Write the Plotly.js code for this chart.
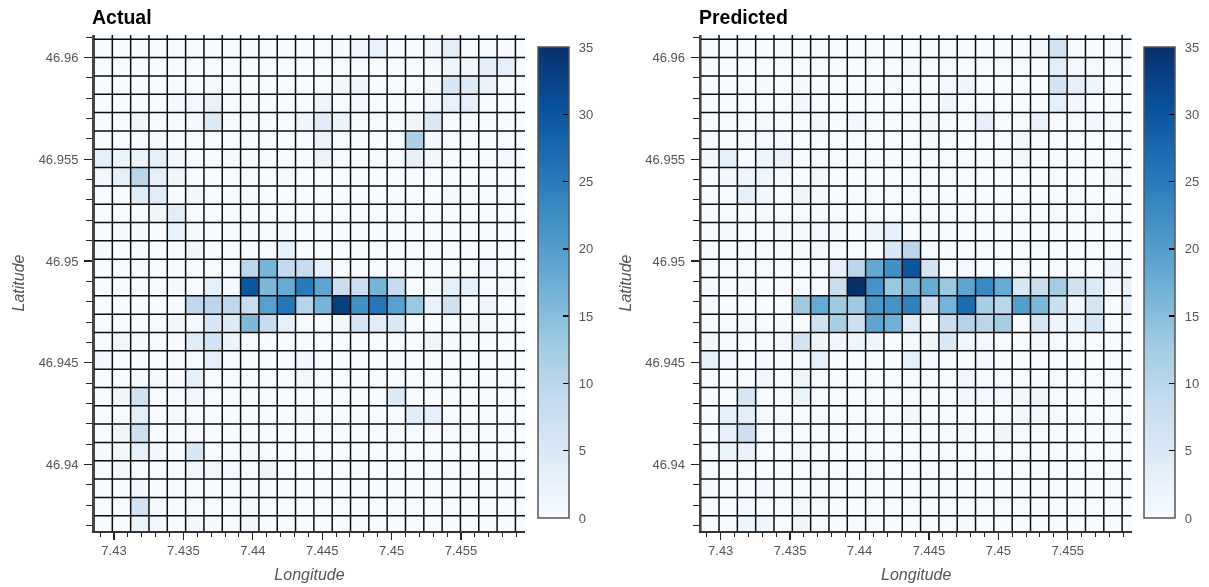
<!DOCTYPE html>
<html>
<head>
<meta charset="utf-8">
<script src="https://cdn.plot.ly/plotly-3.0.1.min.js"></script>
<style>
html,body{margin:0;padding:0;background:#fff;overflow:hidden}
#chart{width:1209px;height:587px;filter:blur(0.45px)}
.colorbar text{translate:6px 0}
</style>
</head>
<body>
<div id="chart"></div>
<script>
const lonEdges = [7.42856,7.42988,7.43120,7.43252,7.43384,7.43516,7.43648,7.43780,7.43912,7.44044,7.44176,7.44308,7.44440,7.44572,7.44704,7.44836,7.44968,7.45100,7.45232,7.45364,7.45496,7.45628,7.45760,7.45892,7.46024];
const latEdgesTopDown = [46.96179,46.96089,46.95999,46.95909,46.95819,46.95729,46.95639,46.95549,46.95459,46.95369,46.95279,46.95189,46.95099,46.95009,46.94919,46.94829,46.94739,46.94649,46.94559,46.94469,46.94379,46.94289,46.94199,46.94109,46.94019,46.93929,46.93839,46.93749,46.93659];

// Rows run from the top of the picture to the bottom, 24 columns each.
const actualRows = [
[0,0,0,0,0,0,0,0,0,0,0,0,0,0.3,0.5,0.7,0.2,0.2,1,1,0.7,0.5,0.3,0],
[0,0,0,0,0,0,0,0,0,0,0,0,0,0.5,1,2.5,0,0,1,3.5,0,0,0,0],
[0,0,0,0,0,0,0,0,0,0,0,0,0,0.2,0,0,0,0,0.5,1.5,1,3.5,3,0],
[0,0,0,0,0,0,0.7,0,0,0,0,0,0,1,1.5,0,0,0,1,5.5,4.5,2.5,0,0],
[0,0,0,0,0.5,0.7,2.5,0,0,0,0,0,1.5,0,0.8,0.4,0,0,1,2.5,3,0.3,0,0],
[0,0,1.5,0,0,0.7,4.5,0,0,0,0,1.5,4,2,0,0.3,0,1.5,5,0,0,0,0,0],
[0,0,0,0.5,0,0,0,0,0,0,0,0,2,0.3,0,0,0.3,11.5,1,0.3,0,0,0.3,0],
[3,2,2,3,1,0,0,0.5,0,0,0,0,2,0,0,0.4,0,3,1,0,0,0,0.8,0],
[1,3,10,3,1.5,0,0,0,0,0,0.5,0,0,0,0,0,0,0,0,0,0,0,0,0],
[0,0,4,4,0,1,0,0,0.5,0,0,0,0,0,0,0,0,0,0,0.8,0.3,0.3,0.2,0],
[0,0,0,1.5,3.5,0,0,0,0,0,0,0,0,0,0,0,0,0,0,0,0,0,0,0],
[0,0.5,0.5,0,2.5,0.5,0,0,0,0.3,0.5,0,0,0,0,0,0,0,0,0,0,0,0,0],
[0.5,0,0,0,0,1.5,0,0,0,0.3,3,0,0,0,0,0.3,0,0,0,0,0,0,0,0],
[0,0,0,0,0,0,0,0.3,10,16.5,9,8.8,3,0,0,0,0,0,0,0,0,0.7,0,0],
[0,0,0,0,0.5,0,3,0.8,30,16,18,25,19,8,7.5,16.5,8.5,0,0.5,3,3,0,0.5,0.5],
[0,0,0,0,0,9.5,10,9.5,8.3,19.5,25.5,10.5,16.5,33,22,25.5,19.5,13.5,2.5,7,0.3,1.5,0,1],
[0,0,0,0,1,0.5,5.5,4.5,16,8.5,3,0.3,0,1,6,4,5,0,0,0,1,0.5,0,0],
[0.3,1,0.5,0.4,0,4,6.5,2,0.3,0,0,0,0,0,0,0,0,0,1.5,0.5,0,0,0,0],
[1,0,0,0.4,0,0.4,3,0,0,0,0,1,0,0,0,0,0,0,0,0,0,0,0,0],
[0,0,0.5,0.5,0,3,0,0,0,0,0,1,0,0,0,0,0,0,0,0,0,0,0,0],
[0,1.5,7,0,0,1,0,0,0,0,0,0,0,0,0,0,4.5,0,0,0,0,0,0,0],
[0,0.3,3.5,0,0.5,0,0,0,0,0,0,0.5,0,0,0,0,0,4,3,0,0,0,0,0],
[0,1.5,7.5,0,0,0,0,0,0,0,0,0,0,0,0,0,0.3,0.3,0,0,0.3,0,0,0],
[0.5,1,3,1,0,5.5,0,0,0.5,0,0,0,0,0,0,0,0,0,0,0,0,0,0,0],
[0,1,0,0.4,0,1,1,0.8,0,1.5,0,0,0,0,0,0,0,0.2,0,0,0,0,0,0],
[0,0,1,0,0,0,0,0,0,0,0,0,0,0,0.3,0,0,0,0,0,0,0,0,0],
[0,0,6.5,0.5,0,0.3,0,0,0.5,0,0,0,0,0,0,0,0,0,0,0,0,0,0,0],
[0,0,2,1,0,1,0.5,0.2,1,0,0,0,0,0,0.3,0,0,0,0,0,0,0,0,0]
];
const predictedRows = [
[0.1,0.1,0.1,0.1,0.1,0.1,0.1,0.1,0.3,0.1,0.1,0.1,0.1,0.1,0.1,0.1,0.1,0.1,0.3,1.5,0.3,0.1,0.1,0.1],
[0.2,0,0,0,0,0,0,0,0,0,0,0,0,0.4,0.4,0.1,0.4,0.1,1,6.5,0.4,0.1,0.1,0.4],
[0,0,0,0,0,0,0,0,0,0,0,0.5,0.4,0.4,0,0.3,0.3,0.3,0.1,3.5,0.8,0.4,0.4,0.2],
[0,0,0,0.5,0,0.6,0,0,0,0,0.6,0,0,0.9,1.5,0,0,0,0,6.5,3,1.5,0,0],
[0,0,0.3,0.2,0.3,1,0.4,0,0,0,0,0,0.3,1.5,0.2,0,0.3,0,0.1,3,1,0.1,0,0],
[0,0.2,0,0.8,0,0,1,0,1,0,0,0.2,1.2,0,0,3,0,0.4,2.5,0,0.2,1,0.2,0],
[0.2,0,0.5,0.7,0.7,0,0,0.3,0.4,0,0,0,0.6,0,0,0,0,1,0.3,0,0,0,0,0.1],
[1,3,0.3,1.5,2.5,0,0.3,0.4,0.4,0,0,0,0,0.4,0.4,0,0,1,0,0,0,0,0.4,0.1],
[0,1,1.5,1.5,0.5,0,1,0.3,0,0,0,0,0,0.4,0,0,0,0,0,0.3,0,0,1,0.1],
[0,0.2,3,1.2,0,1.5,0.9,0,0.2,0.2,0.2,0.2,0.2,0,0,0,0,0,0,0,0.3,0,0,0],
[0,0.3,0.6,0.8,0.3,0.3,0.6,0.3,0,0,0,0,0.4,0,0,0,0,0.1,0.1,0.3,0,0.3,0,0],
[0,0.6,0.2,0.2,0.5,0.5,0.7,0.5,0,1.5,3,0,0,0,0.3,0,0,0,0,0,0,0,0.3,0],
[0,0,0.6,0.2,0,0.5,0.7,0.3,0,0,5.5,10,0.3,0,0,0.2,0,0,0.2,0,0,0,0.3,0],
[0.2,0.2,0,0.2,0,0,0,3,10,18.5,22,30,6.5,0.2,0.7,0.1,0,0.2,0,0,0,0,1.5,0.2],
[0.7,0,0.5,0,0,0,0.2,8,35,21.5,13.5,16.5,18,13.5,19,23,18,5.5,8,12.5,7,4.5,0.8,2.5],
[0.7,0,0,0,0,13,18,13,13,21,21.5,24,8,16.5,27,12,10,20,16,8,1,6,0,2.5],
[0,0.3,0.7,0,0.5,0,7,12,7.5,19,17,4,0.1,8,11,10,12.5,0,6,1.5,2,5.5,0,0],
[1,0.3,0,0.3,0.7,6.5,1.5,1,1.5,1.5,0,0.7,1.5,5,1.2,0.7,0.2,0,0.7,0.2,0.2,0,0,0],
[3,0.8,0.3,0.8,0,0.6,3,0,0,0,0,3,0.8,0,0,0.7,0,0,0,0,0,0,0,0],
[0,0,0.4,1,0,1.5,0,0,0,0,0,0.4,0,0,1,0.4,0.3,0,0,0.3,0,0,0.3,0],
[0,0,5.5,0,0,2,0,0,0,0,0,0.4,0,0,1,0.7,0.7,1,1.5,0,0,0,0,0],
[0,3,3.5,0.8,0.2,0,0.4,0,0,0,0,1.2,0,0,0.1,0,0,1,1,0.3,0,0,0,0],
[0,3,7.5,0.2,0.3,0,0,0,0,0,0,0,0,0.2,0.8,0,1.5,0.2,0.2,0,0,0,0,0],
[0.3,2,2.5,0,0,0.7,0,0,0,0,0,0,0,0,0.3,0.3,0.1,0.4,0,0,0,0,0,0],
[0.2,0,0.6,0,0,0.2,0.3,0,0,0.2,0,0,0,0,0,0,0,0,0,0,0,0,0,0],
[0.5,0,0.2,0.7,0,0,0,0,0,0.1,0,0,0,0,0.3,0,0,0,0,0,0,0,0,0],
[0,0,0.8,0,0,0.9,0.3,0,0,0,0,0,0,0,0,0.2,0.3,0,0,0,0,0,0,0],
[0,0.2,1.5,1.5,0,1.5,0.3,0,0.2,0,0,0,0,0,0.5,0,0,0,0,0,0,0,0,0]
];
const lonTicks = [7.43,7.435,7.44,7.445,7.45,7.455];
const lonLabels = ["7.43","7.435","7.44","7.445","7.45","7.455"];
const latTicks = [46.94,46.945,46.95,46.955,46.96];
const latLabels = ["46.94","46.945","46.95","46.955","46.96"];
const colorTicks = [0,5,10,15,20,25,30,35];
const blues = ["#f7fbff","#deebf7","#c6dbef","#9ecae1","#6baed6","#4292c6","#2171b5","#08519c","#08306b"];
const panelTitles = ["Actual","Predicted"];

const W = 1209, H = 587;
const latEdges = latEdgesTopDown.slice().reverse();
const colorscale = blues.map((c,i)=>[i/(blues.length-1),c]);
const lonRange = [7.42856,7.45961], latRange = [46.93674,46.9611];

function gridTrace(xa,ya){
  const xs=[],ys=[];
  lonEdges.forEach(e=>{xs.push(e,e,null);ys.push(latRange[0],latRange[1],null);});
  latEdges.forEach(e=>{xs.push(lonRange[0],lonRange[1],null);ys.push(e,e,null);});
  return {type:'scatter',mode:'lines',x:xs,y:ys,xaxis:xa,yaxis:ya,hoverinfo:'skip',showlegend:false,
    line:{color:'#0c0c0c',width:1.5}};
}
function heat(rows,xa,ya,barLeft){
  return {type:'heatmap',x:lonEdges,y:latEdges,z:rows.slice().reverse(),xaxis:xa,yaxis:ya,zmin:0,zmax:35,
    colorscale:colorscale,hoverinfo:'skip',
    colorbar:{x:barLeft/W,xanchor:'left',xpad:0,y:1-518/H,yanchor:'bottom',ypad:0,
      thicknessmode:'pixels',thickness:31,lenmode:'pixels',len:471,
      outlinecolor:'#555',outlinewidth:1.5,ticks:'inside',ticklen:6,tickwidth:1.5,tickcolor:'#000',
      tickmode:'array',tickvals:colorTicks,ticktext:colorTicks.map(String),
      tickfont:{family:'Liberation Sans',size:13,color:'#555'}}};
}
function xAxis(l,r){
  return {domain:[l/W,r/W],range:lonRange,tickmode:'array',tickvals:lonTicks,ticktext:lonLabels,
    ticks:'outside',ticklen:7,tickwidth:1.2,tickcolor:'#222',showgrid:false,zeroline:false,
    showline:true,linecolor:'#333',linewidth:1.5,
    minor:{tickmode:'linear',tick0:7.43,dtick:0.001,ticks:'outside',ticklen:4,tickwidth:1,tickcolor:'#222',showgrid:false},
    tickfont:{family:'Liberation Sans',size:13,color:'#555'},
    title:{text:'<i>Longitude</i>',standoff:11,font:{family:'Liberation Sans',size:16,color:'#555'}}};
}
function yAxis(){
  return {domain:[1-531/H,1-35/H],range:latRange,tickmode:'array',tickvals:latTicks,ticktext:latLabels,
    ticks:'outside',ticklen:8,tickwidth:1.2,tickcolor:'#222',showgrid:false,zeroline:false,
    showline:true,linecolor:'#444',linewidth:2,ticklabelstandoff:3,
    minor:{tickmode:'linear',tick0:46.94,dtick:0.001,ticks:'outside',ticklen:6,tickwidth:1,tickcolor:'#222',showgrid:false},
    tickfont:{family:'Liberation Sans',size:13,color:'#555'},
    title:{text:'<i>Latitude</i>',standoff:10,font:{family:'Liberation Sans',size:16,color:'#555'}}};
}
const OFF = 606.7;
const data = [
  heat(actualRows,'x','y',537.5), gridTrace('x','y'),
  heat(predictedRows,'x2','y2',537.5+OFF), gridTrace('x2','y2')
];
const layout = {
  width:W,height:H,margin:{l:0,r:0,t:0,b:0},paper_bgcolor:'#fff',plot_bgcolor:'#fff',showlegend:false,
  xaxis:Object.assign(xAxis(94,525),{anchor:'y'}),
  yaxis:Object.assign(yAxis(),{anchor:'x'}),
  xaxis2:Object.assign(xAxis(94+OFF,525+OFF),{anchor:'y2'}),
  yaxis2:Object.assign(yAxis(),{anchor:'x2'}),
  annotations:panelTitles.map((t,i)=>({xref:'paper',yref:'paper',x:(90+i*OFF)/W,y:1-17/H,xanchor:'left',yanchor:'middle',
    showarrow:false,text:'<b>'+t+'</b>',font:{family:'Liberation Sans',size:19.5,color:'#000'}}))
};
Plotly.newPlot('chart',data,layout,{displayModeBar:false,staticPlot:true});
</script>
</body>
</html>
